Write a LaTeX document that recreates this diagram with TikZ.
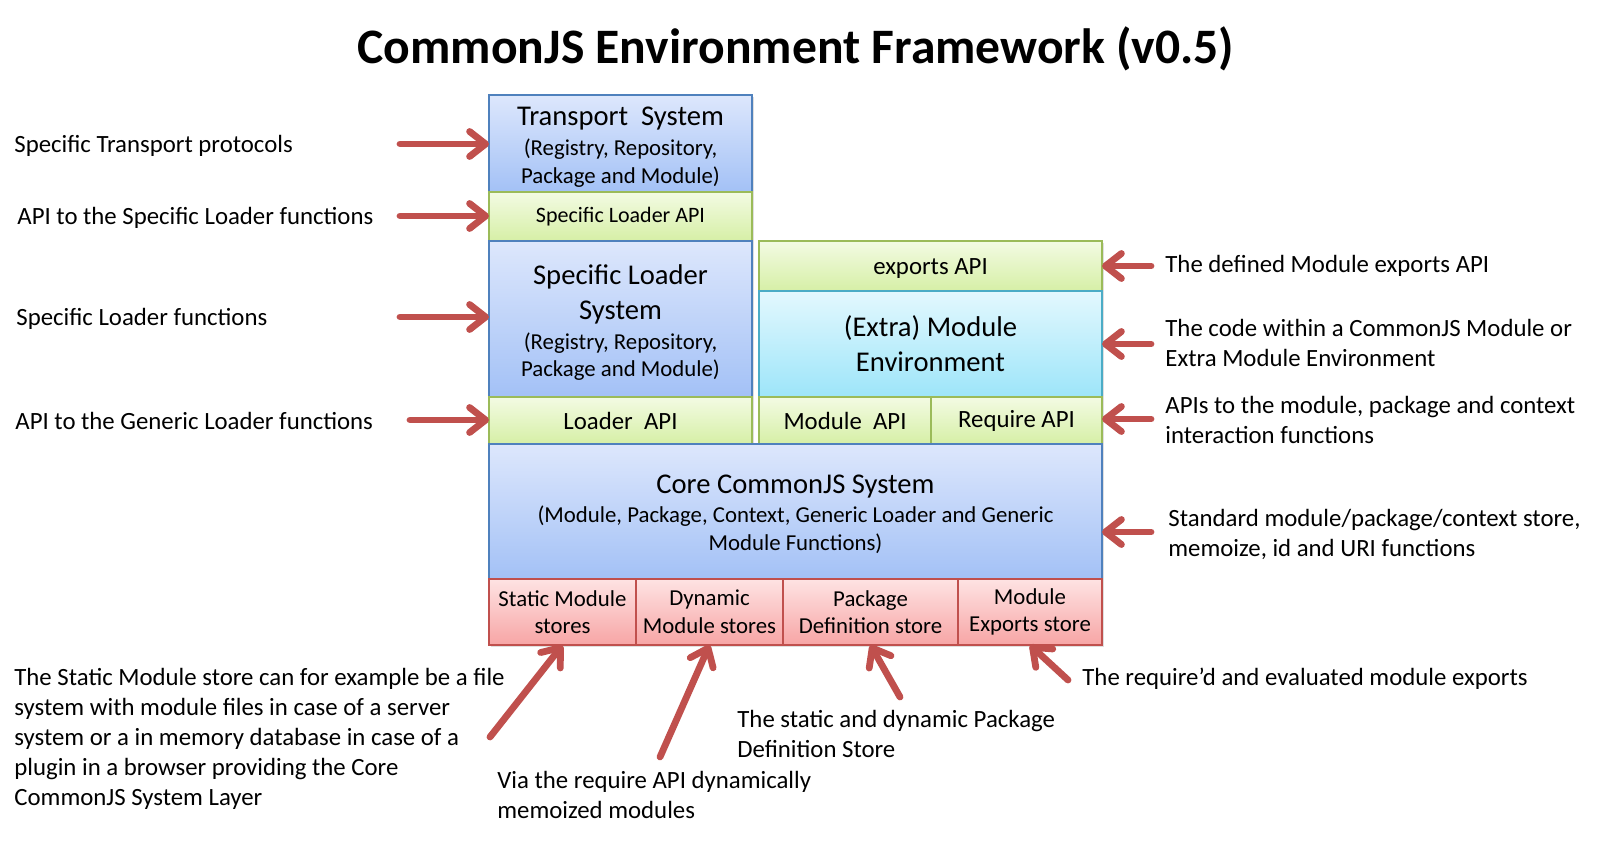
\documentclass[tikz,border=0pt]{standalone}
\usepackage{fontspec}
\setmainfont{Carlito}
\usetikzlibrary{arrows.meta,shadows,calc}
\definecolor{bluebd}{HTML}{4F81BD}
\definecolor{bluetop}{HTML}{DDE7FC}
\definecolor{bluebot}{HTML}{A3C1F6}
\definecolor{greenbd}{HTML}{9BBB59}
\definecolor{greentop}{HTML}{F3FBE3}
\definecolor{greenbot}{HTML}{D6EFA6}
\definecolor{cyanbd}{HTML}{4BACC6}
\definecolor{cyantop}{HTML}{E3F8FE}
\definecolor{cyanbot}{HTML}{9DE5F9}
\definecolor{redbd}{HTML}{C0504D}
\definecolor{redtop}{HTML}{FEE3E3}
\definecolor{redbot}{HTML}{F7A5A5}
\definecolor{arrowred}{HTML}{C0504D}
\newcommand\ttlf{\fontsize{14.3}{17.4}\selectfont}
\newcommand\subf{\fontsize{11.4}{13.8}\selectfont}
\newcommand\midf{\fontsize{12.4}{15}\selectfont}
\tikzset{
  box/.style={draw, line width=1pt, inner sep=0pt, outer sep=0pt, anchor=north west, align=center,
    drop shadow={shadow xshift=1pt, shadow yshift=-1pt, opacity=0.25}},
  bluebox/.style={box, draw=bluebd, top color=bluetop, bottom color=bluebot},
  greenbox/.style={box, draw=greenbd, top color=greentop, bottom color=greenbot},
  cyanbox/.style={box, draw=cyanbd, top color=cyantop, bottom color=cyanbot},
  redbox/.style={box, draw=redbd, top color=redtop, bottom color=redbot, font=\subf},
  boxtext/.style={align=center, inner sep=0pt},
  arr/.style={draw=arrowred, line width=3.4pt, line cap=round, -{Straight Barb[length=8pt,width=12.5pt,round]}},
  lbl/.style={anchor=west, align=left, inner sep=0pt, font=\midf},
}
\begin{document}
\begin{tikzpicture}[x=0.5pt, y=-0.5pt]
\useasboundingbox (0,0) rectangle (1604,840);
\fill[white] (0,0) rectangle (1604,840);
\node[font=\fontsize{24.8}{30}\selectfont\bfseries] (title) at (796,49) {CommonJS Environment Framework (v0.5)};
% left column boxes
\node[bluebox, minimum width=131.5pt, minimum height=48.5pt] (transport) at (489,95) {};
\node[boxtext, font=\subf] (transport-t) at ([yshift=-1.8pt]transport.center)
  {{\ttlf Transport~ System}\\[1pt] (Registry, Repository,\\ Package and Module)};
\node[greenbox, font=\fontsize{11}{13}\selectfont, minimum width=131.5pt, minimum height=24.5pt] (slapi) at (489,192) {Specific Loader API};
\node[bluebox, minimum width=131.5pt, minimum height=78pt] (slsys) at (489,241) {};
\node[boxtext, font=\subf] (slsys-t) at ([yshift=-2pt]slsys.center)
  {{\ttlf Specific Loader}\\[3.6pt] {\ttlf System}\\[1pt] (Registry, Repository,\\ Package and Module)};
\node[greenbox, font=\midf, minimum width=131.5pt, minimum height=23.5pt] (loaderapi) at (489,397) {Loader~ API};
% right column boxes
\node[greenbox, minimum width=171.5pt, minimum height=25pt] (exports) at (759,241) {};
\node[boxtext, font=\midf] (exports-t) at ([yshift=-1.5pt]exports.center) {exports API};
\node[cyanbox, font=\ttlf, minimum width=171.5pt, minimum height=53pt] (modenv) at (759,291) {(Extra) Module\\ Environment};
\node[greenbox, font=\midf, minimum width=86pt, minimum height=23.5pt] (modapi) at (759,397) {Module~ API};
\node[greenbox, font=\midf, minimum width=85.5pt, minimum height=23.5pt] (reqapi) at (931,397) {Require API};
% core
\node[bluebox, minimum width=306.5pt, minimum height=67.5pt] (core) at (489,444) {};
\node[boxtext, font=\subf] (core-t) at ([yshift=-1.3pt]core.center)
  {{\ttlf Core CommonJS System}\\[1pt] (Module, Package, Context, Generic Loader and Generic\\ Module Functions)};
% stores
\node[redbox, minimum width=73.5pt, minimum height=33pt] (static) at (489,579) {Static Module\\ stores};
\node[redbox, minimum width=73.5pt, minimum height=33pt] (dynamic) at (636,579) {Dynamic\\ Module stores};
\node[redbox, minimum width=87.5pt, minimum height=33pt] (package) at (783,579) {Package\\ Definition store};
\node[redbox, minimum width=72pt, minimum height=33pt] (mexports) at (958,579) {Module\\ Exports store};
% left labels
\node[lbl] (l1) at (14,146) {Specific Transport protocols};
\node[lbl] (l2) at (17,218) {API to the Specific Loader functions};
\node[lbl] (l3) at (16,319) {Specific Loader functions};
\node[lbl] (l4) at (15,421) {API to the Generic Loader functions};
\coordinate (a1) at (400,144);
\coordinate (a2) at (400,216);
\coordinate (a3) at (400,317);
\coordinate (a4) at (410,420);
\draw[arr] (a1) -- (a1 -| transport.west);
\draw[arr] (a2) -- (a2 -| slapi.west);
\draw[arr] (a3) -- (a3 -| slsys.west);
\draw[arr] (a4) -- (a4 -| loaderapi.west);
% right labels
\node[lbl] (r1) at (1165,266) {The defined Module exports API};
\node[lbl] (r2) at (1165,343) {The code within a CommonJS Module or\\ Extra Module Environment};
\node[lbl] (r3) at (1165,420) {APIs to the module, package and context\\ interaction functions};
\node[lbl] (r4) at (1168,534) {Standard module/package/context store,\\ memoize, id and URI functions};
\coordinate (b1) at (1151,266);
\coordinate (b2) at (1151,344);
\coordinate (b3) at (1151,419);
\coordinate (b4) at (1151,532);
\draw[arr] (b1) -- (b1 -| exports.east);
\draw[arr] (b2) -- (b2 -| modenv.east);
\draw[arr] (b3) -- (b3 -| reqapi.east);
\draw[arr] (b4) -- (b4 -| core.east);
% bottom labels
\node[lbl] (t1) at (14,739) {The Static Module store can for example be a file\\ system with module files in case of a server\\ system or a in memory database in case of a\\ plugin in a browser providing the Core\\ CommonJS System Layer};
\node[lbl] (t2) at (497,795) {Via the require API dynamically\\ memoized modules};
\node[lbl] (t3) at (737,734) {The static and dynamic Package\\ Definition Store};
\node[lbl] (t4) at (1082,679) {The require’d and evaluated module exports};
\coordinate (c1) at (490,737);
\coordinate (c2) at (660,757);
\coordinate (c3) at (900,697);
\coordinate (c4) at (1068,680);
\draw[arr] (c1) -- (static.south);
\draw[arr] (c2) -- (dynamic.south);
\draw[arr] (c3) -- (package.south);
\draw[arr] (c4) -- (mexports.south);
\end{tikzpicture}
\end{document}
